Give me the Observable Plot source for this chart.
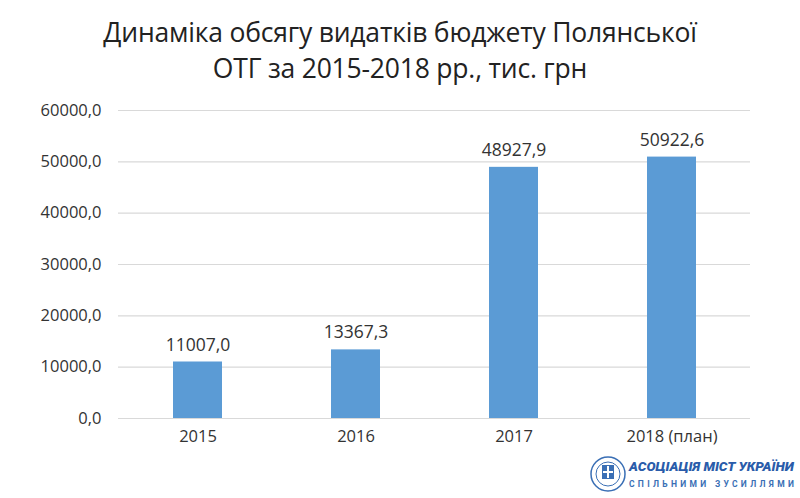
<!DOCTYPE html>
<html><head><meta charset="utf-8">
<script src="https://cdn.jsdelivr.net/npm/d3@7"></script>
<script src="https://cdn.jsdelivr.net/npm/@observablehq/plot@0.6"></script>
<style>
body{margin:0;background:#fff;font-family:"Open Sans",sans-serif;}
#wrap{position:relative;width:800px;height:498px;overflow:hidden;}
#title{position:absolute;left:0;top:14px;width:800px;text-align:center;font-family:"Open Sans",sans-serif;font-size:26.5px;line-height:36px;color:#222;letter-spacing:-0.2px;}
#chart{position:absolute;left:0;top:95px;}
#logo{position:absolute;left:586px;top:455px;width:214px;height:40px;}
</style></head>
<body><div id="wrap">
<div id="title">Динаміка обсягу видатків бюджету Полянської<br>ОТГ за 2015-2018 рр., тис. грн</div>
<div id="chart"></div>
<div id="logo">
<svg width="214" height="40">
<circle cx="22" cy="19" r="17" fill="none" stroke="#3a6fb5" stroke-width="1.5"/>
<circle cx="22" cy="19" r="12" fill="none" stroke="#3a6fb5" stroke-width="1"/>
<rect x="16" y="10" width="12" height="14" fill="#3a6fb5"/>
<path d="M22 11 V23 M17 17 H27" stroke="#fff" stroke-width="2"/>
<text x="43" y="16" font-family="Roboto, sans-serif" font-weight="900" font-style="italic" font-size="13.5" fill="#2a5caa">АСОЦІАЦІЯ МІСТ УКРАЇНИ</text>
<text x="43" y="32" font-family="Roboto, sans-serif" font-weight="700" font-size="8.5" letter-spacing="3.3" fill="#3a6fb5">СПІЛЬНИМИ ЗУСИЛЛЯМИ</text>
</svg>
</div>
</div>
<script>
const categories = ["2015", "2016", "2017", "2018 (план)"];
const values = [11007.0, 13367.3, 48927.9, 50922.6];
const yTicks = [0, 10000, 20000, 30000, 40000, 50000, 60000];

const data = categories.map((c, i) => ({cat: c, val: values[i]}));
const fmt = d => d.toFixed(1).replace(".", ",");

const chart = Plot.plot({
  width: 800,
  height: 363,
  marginTop: 15,
  marginBottom: 40,
  marginLeft: 118,
  marginRight: 50,
  style: {fontFamily: "Open Sans, sans-serif", fontSize: "16.5px", color: "#333", background: "transparent"},
  x: {domain: categories, paddingInner: 0.69, paddingOuter: 0.345, label: null, tickSize: 0, tickPadding: 12},
  y: {domain: [0, 60000], ticks: yTicks, tickFormat: fmt, label: null, tickSize: 0, tickPadding: 17},
  marks: [
    Plot.gridY(yTicks, {stroke: "#d9d9d9", strokeOpacity: 1, strokeWidth: 1.2}),
    Plot.barY(data, {x: "cat", y: "val", fill: "#5b9bd5"}),
    Plot.text(data, {x: "cat", y: "val", text: d => fmt(d.val), dy: -17, fontSize: 17.5, fill: "#333"})
  ]
});
document.getElementById("chart").appendChild(chart);
</script>
</body></html>
